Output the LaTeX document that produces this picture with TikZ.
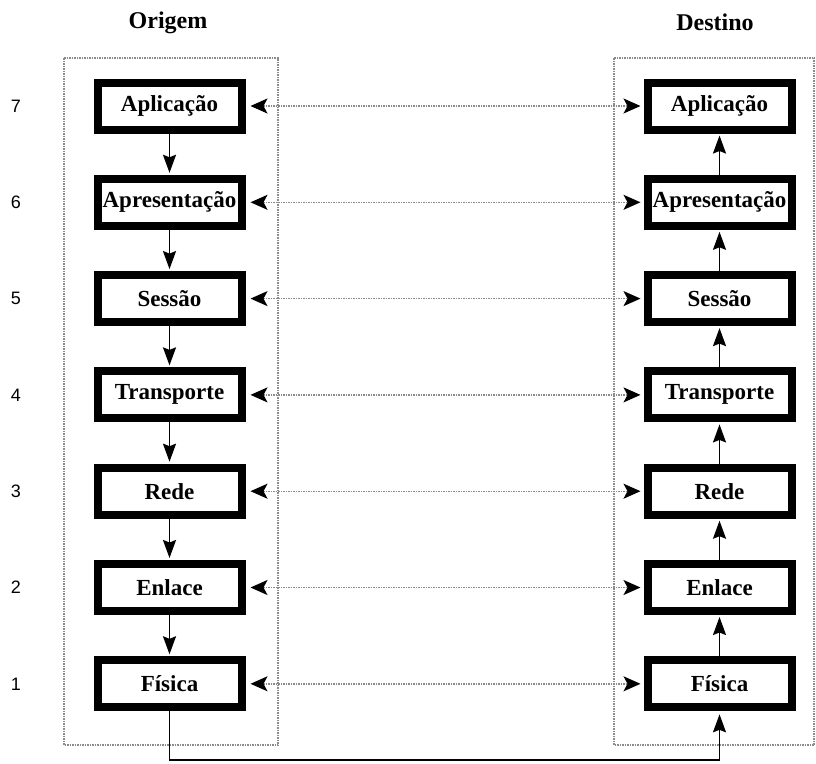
\documentclass[tikz,border=0pt]{standalone}
\usepackage{fontspec}
\setmainfont{Liberation Serif}
\newfontfamily\numfont{Liberation Sans}
\usepackage{tikz}
\usetikzlibrary{calc,arrows.meta}
\definecolor{ink}{HTML}{000000}
\definecolor{dots}{HTML}{8A8A8A}
\tikzset{
  layer/.style={draw=ink, fill=white, line width=8pt, minimum width=144pt, minimum height=47pt, inner sep=0pt, font=\fontsize{23}{25}\selectfont\bfseries},
  flow/.style={draw=ink, line width=1.8pt, -{Stealth[length=18pt,width=13pt,inset=2.5pt]}},
  peer/.style={draw=dots, dash pattern=on 1.5pt off 1pt, line width=1.4pt, {Stealth[length=17pt,width=15pt,inset=4pt,ink]}-{Stealth[length=17pt,width=15pt,inset=4pt,ink]}},
  frame/.style={draw=dots, dash pattern=on 1.5pt off 1pt, line width=1.2pt},
  num/.style={font=\numfont\fontsize{18}{20}\selectfont},
  head/.style={font=\fontsize{24}{26}\selectfont\bfseries},
}

\begin{document}
\begin{tikzpicture}[x=1pt,y=-1pt]
  \useasboundingbox (0,0) rectangle (816,763);

  % containers
  \draw[frame] (64,58) rectangle (278,745);
  \draw[frame] (614,58) rectangle (814,745);
  \node[head] (origem) at (168,23) {Origem};
  \node[head] (destino) at (715,22) {Destino};

  % layers
  \foreach \n/\name in {7/Aplicação,6/Apresentação,5/Sessão,4/Transporte,3/Rede,2/Enlace,1/Física}{
    \pgfmathsetmacro{\yy}{106+(7-\n)*96.3}
    \node[num] (n\n) at (16,\yy) {\n};
    \node[layer] (L\n) at (169.5,\yy) {\name};
    \node[layer] (R\n) at (719.5,\yy) {\name};
    \draw[peer,shorten <=5pt,shorten >=3pt] (L\n.east) -- (R\n.west);
  }

  % down the stack, up the stack
  \foreach \a/\b in {7/6,6/5,5/4,4/3,3/2,2/1}{
    \draw[flow,shorten >=2pt] (L\a.south) -- (L\b.north);
    \draw[flow,shorten >=2pt] (R\b.north) -- (R\a.south);
  }

  % physical medium
  \coordinate (medium) at (0,760);
  \draw[flow,shorten >=3pt] (L1.south) -- (L1.south |- medium) -| (R1.south);
\end{tikzpicture}
\end{document}
